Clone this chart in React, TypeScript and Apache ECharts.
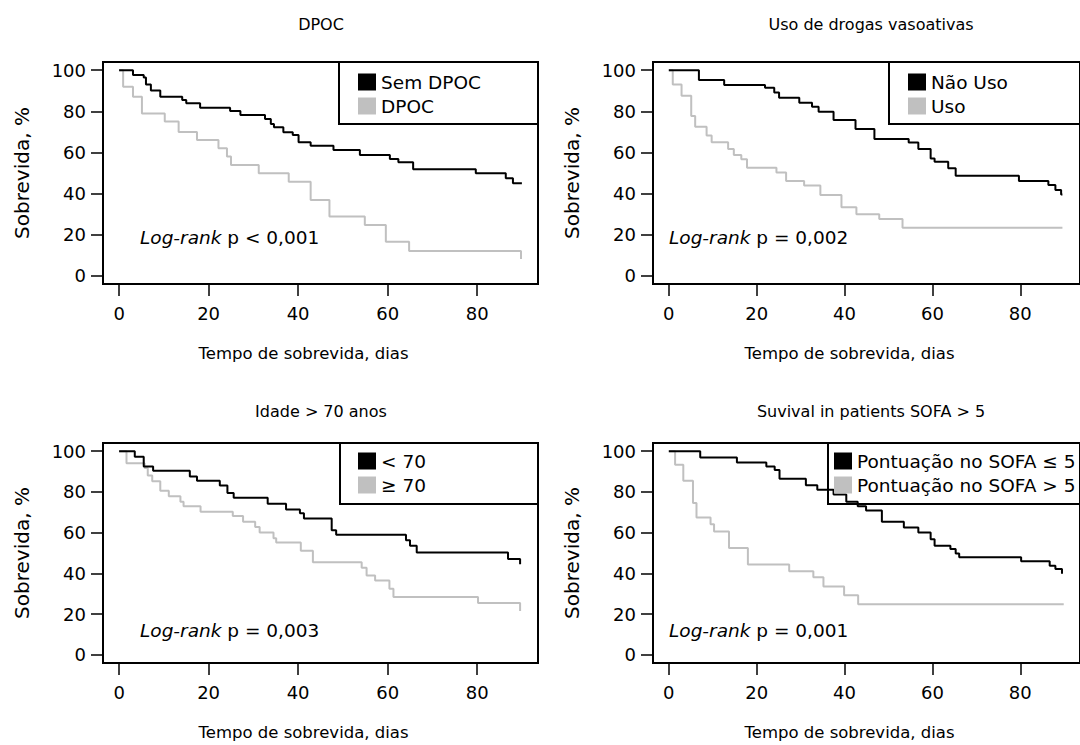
import React, { useEffect, useRef } from "react";
import * as echarts from "echarts";

const FONT = '"DejaVu Sans", "Open Sans", sans-serif';
const BLACK = "#000000";
const GREY = "#c0c0c0";

// Tick labels
const DAY_TICKS = [0, 20, 40, 60, 80];
const SURV_TICKS = [0, 20, 40, 60, 80, 100];

// Panel titles / labels
const PANEL_TITLES = ["DPOC", "Uso de drogas vasoativas", "Idade > 70 anos", "Suvival in patients SOFA > 5"];
const X_TITLE = "Tempo de sobrevida, dias";
const Y_TITLE = "Sobrevida, %";
const LOGRANK_P = ["p < 0,001", "p = 0,002", "p = 0,003", "p = 0,001"];

// Panel 1: DPOC
const semDpocDays = [0, 3.1, 5.5, 6.0, 7.1, 9.2, 14.1, 15.0, 18.1, 24.8, 27.1, 32.6, 33.9, 34.6, 36.7, 38.8, 40.1, 42.8, 47.9, 53.8, 60.5, 62.4, 65.7, 79.7, 86.4, 88.0, 90];
const semDpocSurv = [100, 97.7, 96.4, 93.1, 90.1, 87.1, 85.5, 83.9, 81.8, 80.2, 78.2, 76.3, 73.8, 72.2, 69.8, 68.5, 64.9, 63.3, 61.2, 58.8, 56.8, 55.2, 51.8, 49.9, 47.4, 45.0, 45.0];
const dpocDays = [0, 0.9, 3.1, 5.1, 10.2, 13.3, 17.4, 22.2, 24.1, 25.0, 31.2, 37.9, 42.8, 47.0, 54.9, 59.6, 64.8, 89.8];
const dpocSurv = [100, 92.0, 87.1, 79.0, 75.0, 70.0, 66.0, 62.0, 58.0, 53.9, 49.9, 45.8, 36.9, 28.8, 24.7, 16.6, 12.1, 8.2];

// Panel 2: Uso de drogas vasoativas
const naoUsoDays = [0, 6.85, 12.6, 21.9, 24.0, 25.1, 29.7, 32.6, 34.1, 37.5, 42.5, 46.8, 54.6, 56.8, 59.6, 60.5, 63.6, 65.3, 79.7, 86.4, 88.0, 89.3, 89.6];
const naoUsoSurv = [100, 95.2, 92.8, 91.5, 89.2, 86.6, 84.2, 82.2, 79.8, 75.8, 71.4, 66.5, 64.8, 61.7, 57.1, 55.5, 52.3, 48.7, 46.1, 44.2, 41.7, 39.6, 39.6];
const usoDays = [0, 0.9, 2.9, 5.1, 6.0, 8.6, 9.75, 13.5, 14.8, 16.5, 17.8, 24.5, 26.7, 30.8, 34.5, 39.3, 42.7, 47.9, 53.2, 89.6];
const usoSurv = [100, 93.1, 87.6, 77.7, 72.5, 68.2, 64.9, 61.7, 58.8, 56.7, 52.6, 50.3, 46.1, 43.9, 39.3, 33.3, 29.9, 27.6, 23.4, 23.4];

// Panel 3: Idade > 70 anos
const menor70Days = [0, 3.5, 5.5, 7.6, 15.8, 17.4, 22.5, 24.2, 25.6, 33.2, 37.3, 40.4, 41.3, 47.5, 48.5, 64.1, 65.0, 66.5, 86.9, 89.6];
const menor70Surv = [100, 97.3, 92.5, 90.4, 87.6, 85.5, 83.1, 79.5, 77.1, 74.2, 71.4, 69.5, 66.9, 61.2, 58.9, 56.3, 53.6, 50.3, 47.1, 44.5];
const maior70Days = [0, 1.65, 5.7, 6.4, 7.4, 9.2, 11.1, 13.7, 14.4, 18.2, 25.4, 27.7, 30.4, 31.4, 34.5, 35.1, 40.6, 43.3, 54.2, 55.3, 57.2, 60.4, 61.3, 80.2, 89.6];
const maior70Surv = [100, 94.1, 91.7, 88.1, 85.2, 80.6, 77.9, 75.1, 73.0, 70.3, 68.2, 65.4, 62.8, 60.1, 57.3, 55.2, 51.1, 45.4, 42.7, 39.0, 36.5, 32.5, 28.4, 25.5, 21.5];

// Panel 4: SOFA
const sofaLowDays = [0, 7.15, 15.5, 22.2, 24.1, 25.2, 31.2, 33.8, 37.5, 40.4, 43.0, 44.9, 48.5, 53.5, 56.8, 59.6, 60.5, 64.1, 65.3, 66.1, 80.2, 86.7, 88.0, 89.5];
const sofaLowSurv = [100, 96.9, 94.4, 92.5, 90.8, 86.5, 83.2, 81.1, 78.7, 75.1, 73.0, 70.9, 65.4, 62.5, 60.1, 56.8, 53.6, 52.0, 49.8, 47.9, 46.0, 43.8, 42.2, 39.8];
const sofaHighDays = [0, 1.43, 3.3, 5.5, 6.3, 9.5, 10.3, 13.7, 18.0, 27.4, 32.9, 35.2, 39.9, 43.1, 89.9];
const sofaHighSurv = [100, 93.3, 85.5, 74.6, 67.4, 64.1, 60.5, 52.4, 44.3, 41.0, 38.1, 33.6, 29.2, 24.8, 24.8];

const SERIES_NAMES = [
  ["Sem DPOC", "DPOC"],
  ["Não Uso", "Uso"],
  ["< 70", "≥ 70"],
  ["Pontuação no SOFA ≤ 5", "Pontuação no SOFA > 5"],
];
const SERIES_DATA = [
  [[semDpocDays, semDpocSurv], [dpocDays, dpocSurv]],
  [[naoUsoDays, naoUsoSurv], [usoDays, usoSurv]],
  [[menor70Days, menor70Surv], [maior70Days, maior70Surv]],
  [[sofaLowDays, sofaLowSurv], [sofaHighDays, sofaHighSurv]],
];

// Layout (pixels)
const GRIDS = [
  { left: 103, top: 62, width: 435, height: 222 },
  { left: 653, top: 62, width: 435, height: 222 },
  { left: 103, top: 443, width: 435, height: 220 },
  { left: 653, top: 443, width: 435, height: 220 },
];
const TITLE_Y = [16, 16, 403, 403];
const LEGEND_POS = [
  { left: 358, top: 72, box: [339, 62, 199, 62] },
  { left: 908, top: 72, box: [889, 62, 199, 62] },
  { left: 358, top: 451, box: [340, 443, 198, 61] },
  { left: 834, top: 451, box: [828, 443, 260, 61] },
];
const LOGRANK_POS = [
  [140, 237],
  [669, 237],
  [140, 630],
  [669, 630],
];

function zip(xs: number[], ys: number[]) {
  return xs.map((x, i) => [x, ys[i]]);
}

export default function App() {
  const ref = useRef<HTMLDivElement>(null);
  useEffect(() => {
    if (!ref.current) return;
    const chart = echarts.init(ref.current, null, { renderer: "svg" });
    const grid = GRIDS.map((g) => ({
      ...g,
      show: true,
      borderColor: BLACK,
      borderWidth: 2,
      backgroundColor: "transparent",
      containLabel: false,
    }));
    const xAxis = GRIDS.map((_, i) => ({
      gridIndex: i,
      type: "value",
      position: "bottom",
      min: -3.6,
      max: 93.6,
      axisLine: { show: false, onZero: false },
      splitLine: { show: false },
      axisTick: { show: true, inside: false, customValues: DAY_TICKS, length: 12, lineStyle: { color: BLACK, width: 1.5 } },
      axisLabel: { customValues: DAY_TICKS, fontSize: 18, color: BLACK, fontFamily: FONT, margin: 20 },
      name: X_TITLE,
      nameLocation: "middle",
      nameGap: 61,
      nameTextStyle: { fontSize: 16.5, color: BLACK, fontFamily: FONT, padding: [0, 34, 0, 0] },
    }));
    const yAxis = GRIDS.map((_, i) => ({
      gridIndex: i,
      type: "value",
      position: "left",
      min: -4,
      max: 104,
      axisLine: { show: false, onZero: false },
      splitLine: { show: false },
      axisTick: { show: true, inside: false, customValues: SURV_TICKS, length: 12, lineStyle: { color: BLACK, width: 1.5 } },
      axisLabel: { customValues: SURV_TICKS, fontSize: 18, color: BLACK, fontFamily: FONT, margin: 17 },
      name: Y_TITLE,
      nameLocation: "middle",
      nameGap: 71,
      nameRotate: 90,
      nameTextStyle: { fontSize: 20, color: BLACK, fontFamily: FONT },
    }));
    const series: any[] = [];
    SERIES_DATA.forEach((pair, i) => {
      pair.forEach(([days, surv], j) => {
        series.push({
          type: "line",
          name: SERIES_NAMES[i][j],
          xAxisIndex: i,
          yAxisIndex: i,
          step: "end",
          symbol: "none",
          showSymbol: false,
          color: j === 0 ? BLACK : GREY,
          itemStyle: { color: j === 0 ? BLACK : GREY },
          lineStyle: { color: j === 0 ? BLACK : GREY, width: 2 },
          data: zip(days, surv),
          silent: true,
          z: j === 0 ? 3 : 2,
        });
      });
    });
    const legend = LEGEND_POS.map((p, i) => ({
      left: p.left,
      top: p.top,
      orient: "vertical",
      icon: "rect",
      itemWidth: 18,
      itemHeight: 17,
      itemGap: 4,
      padding: 0,
      selectedMode: false,
      data: SERIES_NAMES[i],
      textStyle: { fontSize: 18.5, lineHeight: 20, color: BLACK, fontFamily: FONT },
    }));
    const title = PANEL_TITLES.map((t, i) => ({
      text: t,
      left: GRIDS[i].left + 218,
      top: TITLE_Y[i],
      textAlign: "center",
      padding: 0,
      textStyle: { fontSize: 16, fontWeight: "normal", color: BLACK, fontFamily: FONT },
    }));
    const graphic: any[] = [];
    LEGEND_POS.forEach((p) => {
      graphic.push({
        type: "rect",
        shape: { x: p.box[0], y: p.box[1], width: p.box[2], height: p.box[3] },
        style: { fill: "none", stroke: BLACK, lineWidth: 2 },
        silent: true,
        z: 10,
      });
    });
    LOGRANK_POS.forEach((p, i) => {
      graphic.push({
        type: "text",
        x: p[0],
        y: p[1],
        style: {
          text: "{i|Log-rank} " + LOGRANK_P[i],
          fontSize: 18.5,
          fontFamily: FONT,
          fill: BLACK,
          verticalAlign: "middle",
          rich: { i: { fontStyle: "italic", fontSize: 18.5, fontFamily: FONT, color: BLACK } },
        },
        silent: true,
        z: 10,
      });
    });
    chart.setOption({
      animation: false,
      backgroundColor: "#ffffff",
      title,
      grid,
      xAxis,
      yAxis,
      legend,
      series,
      graphic,
    });
    return () => chart.dispose();
  }, []);
  return (
    <div
      ref={ref}
      style={{ position: "absolute", left: 0, top: 0, width: 1080, height: 745 }}
    />
  );
}
